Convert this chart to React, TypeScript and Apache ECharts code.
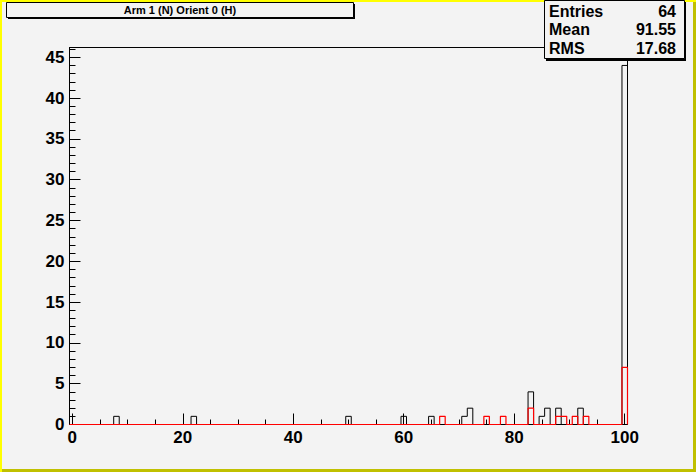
import React, { useEffect, useRef } from "react";
import * as echarts from "echarts";

const xMin = -0.5;
const xMax = 100.5;
const yMax = 46.2;
const blackBins = [8, 22, 50, 60, 65, 71, 72, 83, 85, 86, 88, 92, 100];
const blackCounts = [1, 1, 1, 1, 1, 1, 2, 4, 1, 2, 2, 2, 44];
const redBins = [67, 75, 78, 83, 88, 89, 91, 93, 100];
const redCounts = [1, 1, 1, 2, 1, 1, 1, 1, 7];
const xMajorTicks = [0, 20, 40, 60, 80, 100];
const xMinorTicks = [5, 10, 15, 25, 30, 35, 45, 50, 55, 65, 70, 75, 85, 90, 95];
const yMajorTicks = [0, 5, 10, 15, 20, 25, 30, 35, 40, 45];
const yMinorTicks = [
  0, 1, 2, 3, 4, 5, 6, 7, 8, 9, 10, 11, 12, 13, 14, 15, 16, 17, 18, 19, 20, 21, 22, 23,
  24, 25, 26, 27, 28, 29, 30, 31, 32, 33, 34, 35, 36, 37, 38, 39, 40, 41, 42, 43, 44, 45, 46,
];
const titleText = "Arm 1 (N) Orient 0 (H)";
const statNames = ["Entries", "Mean", "RMS"];
const statValues = ["64", "91.55", "17.68"];

const FONT = "'Liberation Sans', Arial, Helvetica, sans-serif";
const BG = "#f3f3f3";

function stepPoints(bins: number[], counts: number[]) {
  const full: number[] = [];
  for (let b = 0; b <= 100; b++) full.push(0);
  bins.forEach((b, i) => {
    full[b] = counts[i];
  });
  const pts: number[][] = [[xMin, 0]];
  for (let b = 0; b <= 100; b++) {
    pts.push([b - 0.5, full[b]], [b + 0.5, full[b]]);
  }
  pts.push([xMax, 0]);
  return pts;
}

export default function App() {
  const ref = useRef<HTMLDivElement>(null);
  useEffect(() => {
    if (!ref.current) return;
    const chart = echarts.init(ref.current, undefined, { renderer: "svg" });
    const W = 696;
    const H = 472;
    const statTexts: any[] = [];
    statNames.forEach((n, i) => {
      statTexts.push({
        type: "text",
        x: 549,
        y: 11 + i * 18.5,
        z: 102,
        style: {
          text: n,
          font: `bold 16px ${FONT}`,
          fill: "#000",
          textAlign: "left",
          textVerticalAlign: "middle",
        },
      });
      statTexts.push({
        type: "text",
        x: 676,
        y: 11 + i * 18.5,
        z: 102,
        style: {
          text: statValues[i],
          font: `bold 16px ${FONT}`,
          fill: "#000",
          textAlign: "right",
          textVerticalAlign: "middle",
        },
      });
    });
    chart.setOption({
      animation: false,
      backgroundColor: BG,
      grid: {
        left: 69.5,
        right: W - 627.5,
        top: 47.5,
        bottom: H - 424.5,
        show: true,
        borderColor: "#000",
        borderWidth: 1,
        backgroundColor: "transparent",
      },
      xAxis: [
        {
          type: "value",
          min: xMin,
          max: xMax,
          position: "bottom",
          axisLine: { show: true, onZero: false, lineStyle: { color: "#000", width: 1 } },
          axisTick: {
            show: true,
            inside: true,
            length: 11,
            customValues: xMajorTicks,
            lineStyle: { color: "#000", width: 1 },
          },
          axisLabel: {
            show: true,
            customValues: xMajorTicks,
            margin: 4,
            color: "#000",
            fontFamily: FONT,
            fontWeight: "bold",
            fontSize: 17,
          },
          splitLine: { show: false },
        },
        {
          type: "value",
          min: xMin,
          max: xMax,
          position: "bottom",
          axisLine: { show: false, onZero: false },
          axisTick: {
            show: true,
            inside: true,
            length: 5,
            customValues: xMinorTicks,
            lineStyle: { color: "#000", width: 1 },
          },
          axisLabel: { show: false },
          splitLine: { show: false },
        },
      ],
      yAxis: [
        {
          type: "value",
          min: 0,
          max: yMax,
          position: "left",
          axisLine: { show: true, onZero: false, lineStyle: { color: "#000", width: 1 } },
          axisTick: {
            show: true,
            inside: true,
            length: 11,
            customValues: yMajorTicks,
            lineStyle: { color: "#000", width: 1 },
          },
          axisLabel: {
            show: true,
            customValues: yMajorTicks,
            margin: 5,
            color: "#000",
            fontFamily: FONT,
            fontWeight: "bold",
            fontSize: 17,
          },
          splitLine: { show: false },
        },
        {
          type: "value",
          min: 0,
          max: yMax,
          position: "left",
          axisLine: { show: false, onZero: false },
          axisTick: {
            show: true,
            inside: true,
            length: 6,
            customValues: yMinorTicks,
            lineStyle: { color: "#000", width: 1 },
          },
          axisLabel: { show: false },
          splitLine: { show: false },
        },
      ],
      series: [
        {
          type: "line",
          xAxisIndex: 0,
          yAxisIndex: 0,
          data: stepPoints(blackBins, blackCounts),
          symbol: "none",
          showSymbol: false,
          clip: false,
          lineStyle: { color: "#000", width: 1 },
          z: 3,
        },
        {
          type: "line",
          xAxisIndex: 0,
          yAxisIndex: 0,
          data: stepPoints(redBins, redCounts),
          symbol: "none",
          showSymbol: false,
          clip: false,
          lineStyle: { color: "#ff0000", width: 1.2 },
          z: 4,
        },
      ],
      graphic: [
        // canvas bevel border
        { type: "rect", z: 90, shape: { x: 0, y: 0, width: W, height: 2 }, style: { fill: "#ffff00" } },
        { type: "rect", z: 90, shape: { x: 0, y: 0, width: 2, height: H }, style: { fill: "#ffff00" } },
        { type: "rect", z: 91, shape: { x: 2, y: H - 3, width: W - 2, height: 3 }, style: { fill: "#c0c000" } },
        { type: "rect", z: 91, shape: { x: W - 3, y: 2, width: 3, height: H - 2 }, style: { fill: "#c0c000" } },
        // title box
        { type: "rect", z: 100, shape: { x: 8, y: 4, width: 347, height: 15 }, style: { fill: "#000" } },
        {
          type: "rect",
          z: 101,
          shape: { x: 6.5, y: 2.5, width: 347, height: 15 },
          style: { fill: BG, stroke: "#000", lineWidth: 1 },
        },
        {
          type: "text",
          z: 102,
          x: 180,
          y: 10,
          style: {
            text: titleText,
            font: `bold 11px ${FONT}`,
            fill: "#000",
            textAlign: "center",
            textVerticalAlign: "middle",
          },
        },
        // stats box
        { type: "rect", z: 100, shape: { x: 546, y: 2, width: 140, height: 59 }, style: { fill: "#000" } },
        {
          type: "rect",
          z: 101,
          shape: { x: 544.5, y: 0.5, width: 140, height: 58 },
          style: { fill: BG, stroke: "#000", lineWidth: 1 },
        },
        ...statTexts,
      ],
    });
    return () => chart.dispose();
  }, []);
  return (
    <div
      ref={ref}
      style={{ position: "fixed", left: 0, top: 0, width: 696, height: 472 }}
    />
  );
}
